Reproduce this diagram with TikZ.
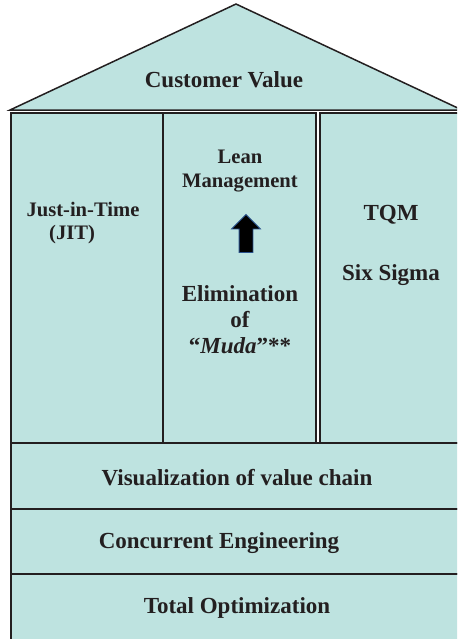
\documentclass[tikz,border=0pt]{standalone}
\usepackage{fontspec}
\setmainfont{Liberation Serif}
\usepackage{xcolor}
\usepackage{tikz}
\usetikzlibrary{positioning, shapes.arrows}
\definecolor{houseteal}{RGB}{190, 227, 224}
\definecolor{linegray}{RGB}{35, 31, 32}
\definecolor{arrowblue}{RGB}{40, 80, 140}
\tikzset{
    housebox/.style = {draw=linegray, fill=houseteal, line width=1pt},
    textnode/.style  = {draw=none, fill=none, rectangle, inner sep = 0em, align=center,
      text=linegray, font=\bfseries\fontsize{11.5}{13}\selectfont},
    smalltextnode/.style  = {textnode, font=\bfseries\fontsize{10.3}{11.8}\selectfont},
    arrownode/.style = {single arrow, draw=arrowblue, fill=black, line width=0.4pt,
      shape border rotate=90, inner sep=3.25pt, minimum height=19pt,
      single arrow head extend=3.75pt}
}

\begin{document}
\begin{tikzpicture}[x=0.5pt, y=-0.5pt]
\useasboundingbox (0,0) rectangle (457,639);
\clip (0,0) rectangle (457,639);
% roof
\draw [housebox, line width=0.75pt] (10,110) -- (236,4) -- (462,110) -- cycle;
% pillars
\draw [housebox] (11,113) rectangle (163,443);
\draw [housebox] (163,113) rectangle (316,443);
\draw [housebox, line width=0.8pt] (320,113) rectangle (462,443);
% foundation
\draw [housebox] (11,443) rectangle (462,509);
\draw [housebox] (11,509) rectangle (462,574);
\draw [housebox] (11,574) rectangle (462,650);

\node [name=value, textnode] at (224,80) {Customer Value};
\node [name=jit, smalltextnode, align=left] at (83,223) {Just-in-Time\\\hspace{1.1em}(JIT)};
\node [name=lean, smalltextnode] at (240,171) {Lean\\Management};
\node [name=up, arrownode] at (246,237) {};
\node [name=muda, textnode] at (240,320) {Elimination\\of\\“\textit{Muda}\/”**};
\node [name=tqm, textnode] at (391,215) {TQM};
\node [name=sigma, textnode, below=19.5pt of tqm] {Six Sigma};
\node [name=visual, textnode] at (237,478) {Visualization of value chain};
\node [name=concurrent, textnode] at (219,543) {Concurrent Engineering};
\node [name=total, textnode] at (237,608) {Total Optimization};
\end{tikzpicture}
\end{document}
